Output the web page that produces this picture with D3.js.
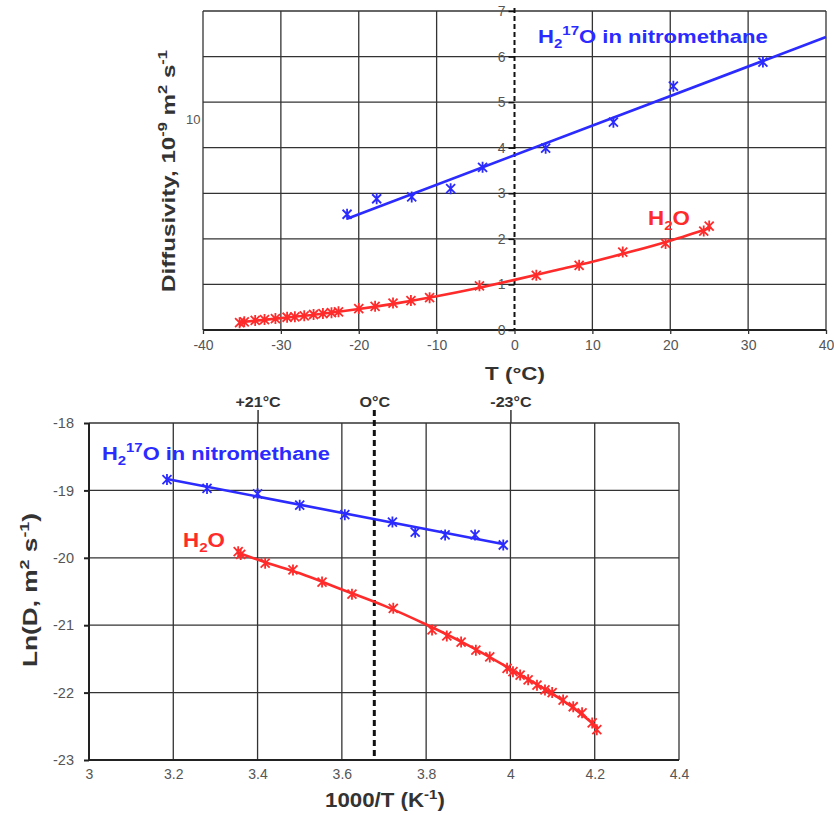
<!DOCTYPE html>
<html><head><meta charset="utf-8">
<script src="https://cdn.jsdelivr.net/npm/d3@7"></script>
<style>
html,body{margin:0;padding:0;background:#fff;}
svg{display:block;font-family:"Liberation Sans",Arial,sans-serif;}
</style></head>
<body>
<svg id="c" width="834" height="815"></svg>
<script>
// ---------- data: top panel (D vs T) ----------
const topXTicks = [-40,-30,-20,-10,0,10,20,30,40];
const topYTicks = [0,1,2,3,4,5,6,7];
const topBlueT = [-21.5,-17.7,-13.2,-8.2,-4.1,4.0,12.7,20.4,31.9];
const topBlueD = [2.54,2.88,2.92,3.10,3.57,3.99,4.56,5.35,5.88];
const topBlueFitT = [-21.5,40];
const topBlueFitD = [2.44,6.43];
const topRedT = [-35.3,-34.7,-33.3,-32.1,-30.7,-29.2,-28.2,-27.0,-25.8,-24.6,-23.5,-22.6,-20.0,-17.9,-15.6,-13.3,-10.9,-4.5,2.8,8.3,13.9,19.4,24.3,25.0];
const topRedD = [0.16,0.18,0.21,0.23,0.25,0.28,0.29,0.31,0.34,0.36,0.38,0.40,0.47,0.52,0.59,0.645,0.71,0.97,1.20,1.42,1.71,1.90,2.17,2.28];
const topRedFitT = [-35.3,-30,-25,-20,-15,-10,-5,0,5,10,15,20,25.3];
const topRedFitD = [0.17,0.26,0.35,0.46,0.59,0.74,0.91,1.10,1.30,1.50,1.72,1.96,2.25];

// ---------- data: bottom panel (ln D vs 1000/T) ----------
const botXTicks = [3,3.2,3.4,3.6,3.8,4,4.2,4.4];
const botYTicks = [-18,-19,-20,-21,-22,-23];
const botTopLabels = ["+21°C","O°C","-23°C"];
const botTopLabelX = [3.4,3.677,4.0];
const botBlueX = [3.185,3.28,3.40,3.50,3.607,3.72,3.774,3.845,3.916,3.983];
const botBlueY = [-18.84,-18.97,-19.05,-19.22,-19.36,-19.47,-19.62,-19.66,-19.66,-19.81];
const botBlueFitX = [3.185,3.985];
const botBlueFitY = [-18.83,-19.80];
const botRedX = [3.354,3.36,3.418,3.484,3.553,3.624,3.722,3.814,3.849,3.883,3.918,3.951,3.992,4.006,4.023,4.042,4.063,4.082,4.099,4.125,4.149,4.17,4.194,4.205];
const botRedY = [-19.91,-19.95,-20.08,-20.18,-20.36,-20.54,-20.75,-21.07,-21.16,-21.25,-21.37,-21.47,-21.64,-21.69,-21.74,-21.81,-21.89,-21.96,-22.0,-22.11,-22.21,-22.30,-22.45,-22.55];
const botRedFitX = [3.355,3.42,3.5,3.6,3.7,3.8,3.9,4.0,4.1,4.15,4.207];
const botRedFitY = [-19.93,-20.07,-20.23,-20.47,-20.71,-20.99,-21.30,-21.65,-22.02,-22.23,-22.52];

const BLUE = "#2b2bff", RED = "#ff2b2b", GRID = "#333", TXT = "#333", TICK = "#555";
const FONT = "Liberation Sans, Arial, sans-serif";
const svg = d3.select("#c");

// rich text, horizontally stretched to a target length (matches the wide lettering of the original)
function rich(g, x, y, parts, size, color, anchor, rotate, targetLen){
  const t = g.append("text").attr("x", 0).attr("y", 0)
    .attr("font-size", size).attr("font-weight", "bold").attr("fill", color)
    .attr("text-anchor", anchor || "start");
  let cur = 0;
  parts.forEach(p => {
    let target = p.sup ? -0.42*size : p.sub ? 0.25*size : 0;
    const ts = t.append("tspan").text(p.t).attr("dy", target - cur);
    if (p.sup || p.sub) ts.attr("font-size", size*0.68);
    cur = target;
  });
  const w = t.node().getComputedTextLength();
  const sx = targetLen ? targetLen / w : 1;
  t.attr("transform", `translate(${x},${y})${rotate ? " rotate(-90)" : ""} scale(${sx},1)`);
  return t;
}
function star(sel, color){
  sel.append("path").attr("d","M-4.5,-4.5L4.5,4.5M-4.5,4.5L4.5,-4.5M0,-5.5L0,5.5")
    .attr("stroke", color).attr("stroke-width", 1.8).attr("fill","none");
}
const fmt = d => String(d);

// ================= TOP PANEL =================
const tx = d3.scaleLinear().domain([-40,40]).range([203,826]);
const ty = d3.scaleLinear().domain([0,7]).range([330,11]);
const gTop = svg.append("g");

gTop.append("g").selectAll("line").data(topXTicks.filter(v=>v!==0)).join("line")
  .attr("x1", d=>tx(d)).attr("x2", d=>tx(d)).attr("y1", ty(7)).attr("y2", ty(0))
  .attr("stroke", GRID).attr("stroke-width", 1.3);
gTop.append("g").selectAll("line").data(topYTicks).join("line")
  .attr("x1", tx(-40)).attr("x2", tx(40)).attr("y1", d=>ty(d)).attr("y2", d=>ty(d))
  .attr("stroke", GRID).attr("stroke-width", 1.3);
gTop.append("line").attr("x1", tx(-40)).attr("x2", tx(40)).attr("y1", ty(0)).attr("y2", ty(0))
  .attr("stroke", "#222").attr("stroke-width", 2);
gTop.append("line").attr("x1", tx(0)).attr("x2", tx(0)).attr("y1", ty(7)-3).attr("y2", ty(0))
  .attr("stroke", "#111").attr("stroke-width", 2).attr("stroke-dasharray","5,3");

const txAxis = gTop.append("g").attr("transform", `translate(0,${ty(0)})`)
  .call(d3.axisBottom(tx).tickValues(topXTicks).tickSize(4).tickPadding(6).tickFormat(fmt));
txAxis.select(".domain").remove();
txAxis.selectAll("line").attr("stroke", GRID).attr("stroke-width",1.3);
txAxis.selectAll("text").attr("font-size", 14).attr("fill", TICK).attr("font-family", FONT);
const tyAxis = gTop.append("g").attr("transform", `translate(${tx(0)},0)`)
  .call(d3.axisLeft(ty).tickValues(topYTicks).tickSize(6).tickPadding(3).tickFormat(fmt));
tyAxis.select(".domain").remove();
tyAxis.selectAll("line").attr("stroke", "#111").attr("stroke-width",1.5);
tyAxis.selectAll("text").attr("font-size", 14).attr("fill", TICK).attr("font-family", FONT);

gTop.append("text").attr("x", 186).attr("y", 124).attr("font-size", 13).attr("fill", TICK).text("10");

const tLine = d3.line().x(d=>tx(d[0])).y(d=>ty(d[1])).curve(d3.curveMonotoneX);
gTop.append("path").attr("d", tLine(d3.zip(topRedFitT, topRedFitD)))
  .attr("fill","none").attr("stroke", RED).attr("stroke-width", 2.6);
gTop.append("path").attr("d", tLine(d3.zip(topBlueFitT, topBlueFitD)))
  .attr("fill","none").attr("stroke", BLUE).attr("stroke-width", 2.6);
gTop.append("g").selectAll("g").data(d3.zip(topRedT, topRedD)).join("g")
  .attr("transform", d=>`translate(${tx(d[0])},${ty(d[1])})`).call(s=>star(s, RED));
gTop.append("g").selectAll("g").data(d3.zip(topBlueT, topBlueD)).join("g")
  .attr("transform", d=>`translate(${tx(d[0])},${ty(d[1])})`).call(s=>star(s, BLUE));

rich(gTop, 538, 43, [{t:"H"},{t:"2",sub:true},{t:"17",sup:true},{t:"O in nitromethane"}], 18, BLUE, "start", false, 230);
rich(gTop, 648, 225, [{t:"H"},{t:"2",sub:true},{t:"O"}], 20, RED, "start", false, 42);
rich(gTop, 515, 380, [{t:"T (°C)"}], 18, TXT, "middle", false, 60);
rich(gTop, 175, 171, [{t:"Diffusivity, 10"},{t:"-9",sup:true},{t:" m"},{t:"2",sup:true},{t:" s"},{t:"-1",sup:true}], 18, TXT, "middle", true, 242);

// ================= BOTTOM PANEL =================
const bx = d3.scaleLinear().domain([3,4.4]).range([89,679]);
const by = d3.scaleLinear().domain([-23,-18]).range([760,423]);
const gBot = svg.append("g");

gBot.append("g").selectAll("line").data(botXTicks).join("line")
  .attr("x1", d=>bx(d)).attr("x2", d=>bx(d)).attr("y1", by(-18)).attr("y2", by(-23))
  .attr("stroke", GRID).attr("stroke-width", 1.3);
gBot.append("g").selectAll("line").data(botYTicks).join("line")
  .attr("x1", bx(3)).attr("x2", bx(4.4)).attr("y1", d=>by(d)).attr("y2", d=>by(d))
  .attr("stroke", GRID).attr("stroke-width", 1.3);
gBot.append("line").attr("x1", bx(3)).attr("x2", bx(3)).attr("y1", by(-18)).attr("y2", by(-23)).attr("stroke", "#222").attr("stroke-width", 2);
gBot.append("line").attr("x1", bx(3)).attr("x2", bx(4.4)).attr("y1", by(-23)).attr("y2", by(-23)).attr("stroke", "#222").attr("stroke-width", 2);

const bxAxis = gBot.append("g").attr("transform", `translate(0,${by(-23)})`)
  .call(d3.axisBottom(bx).tickValues(botXTicks).tickSize(0).tickPadding(9).tickFormat(d=>String(+d.toFixed(1))));
bxAxis.select(".domain").remove();
bxAxis.selectAll("text").attr("font-size", 14).attr("fill", TICK).attr("font-family", FONT);
const byAxis = gBot.append("g").attr("transform", `translate(${bx(3)},0)`)
  .call(d3.axisLeft(by).tickValues(botYTicks).tickSize(5).tickPadding(10).tickFormat(fmt));
byAxis.select(".domain").remove();
byAxis.selectAll("line").attr("stroke", "#222").attr("stroke-width",2);
byAxis.selectAll("text").attr("font-size", 14.5).attr("fill", TICK).attr("font-family", FONT);

const btAxis = gBot.append("g").attr("transform", `translate(0,${by(-18)})`)
  .call(d3.axisTop(bx).tickValues(botTopLabelX).tickSize(13).tickPadding(3).tickFormat((d,i)=>botTopLabels[i]));
btAxis.select(".domain").remove();
btAxis.selectAll("line").attr("stroke", GRID).attr("stroke-width",1.5);
btAxis.selectAll("text").attr("font-size", 14).attr("font-weight","bold").attr("fill", TXT)
  .attr("font-family", FONT).attr("transform","scale(1.15,1)");
btAxis.selectAll(".tick").filter((d,i)=>i===1).select("line").attr("stroke","none");
gBot.append("line").attr("x1", bx(3.677)).attr("x2", bx(3.677)).attr("y1", by(-18)-13).attr("y2", by(-23))
  .attr("stroke", "#111").attr("stroke-width", 3).attr("stroke-dasharray","6,4");

const bLine = d3.line().x(d=>bx(d[0])).y(d=>by(d[1])).curve(d3.curveMonotoneX);
gBot.append("path").attr("d", bLine(d3.zip(botRedFitX, botRedFitY)))
  .attr("fill","none").attr("stroke", RED).attr("stroke-width", 2.6);
gBot.append("path").attr("d", bLine(d3.zip(botBlueFitX, botBlueFitY)))
  .attr("fill","none").attr("stroke", BLUE).attr("stroke-width", 2.6);
gBot.append("g").selectAll("g").data(d3.zip(botRedX, botRedY)).join("g")
  .attr("transform", d=>`translate(${bx(d[0])},${by(d[1])})`).call(s=>star(s, RED));
gBot.append("g").selectAll("g").data(d3.zip(botBlueX, botBlueY)).join("g")
  .attr("transform", d=>`translate(${bx(d[0])},${by(d[1])})`).call(s=>star(s, BLUE));

rich(gBot, 102, 460, [{t:"H"},{t:"2",sub:true},{t:"17",sup:true},{t:"O in nitromethane"}], 18, BLUE, "start", false, 228);
rich(gBot, 183, 547, [{t:"H"},{t:"2",sub:true},{t:"O"}], 20, RED, "start", false, 42);
rich(gBot, 385, 807, [{t:"1000/T (K"},{t:"-1",sup:true},{t:")"}], 20, TXT, "middle", false, 120);
rich(gBot, 37, 590, [{t:"Ln(D, m"},{t:"2",sup:true},{t:" s"},{t:"-1",sup:true},{t:")"}], 20, TXT, "middle", true, 154);
</script>
</body></html>
